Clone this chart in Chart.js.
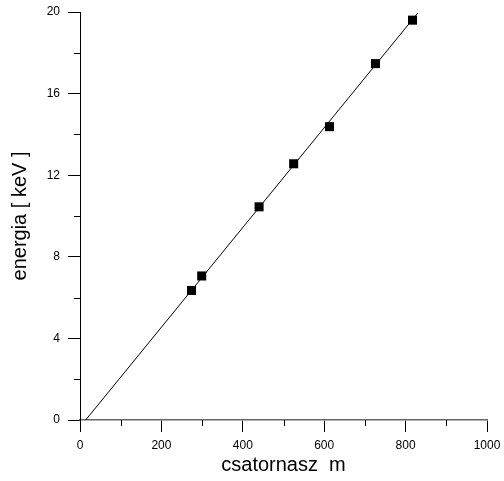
<!DOCTYPE html>
<html>
<head>
<meta charset="utf-8">
<script src="https://cdn.jsdelivr.net/npm/chart.js@4"></script>
<style>
  html, body { margin: 0; padding: 0; background: #fff; }
  #wrap { width: 504px; height: 481px; }
</style>
</head>
<body>
<div id="wrap"><canvas id="calib" width="504" height="481"></canvas></div>
<script>
// mért csúcsok: csatornaszám és energia
const channel = [274, 299, 440, 525, 613, 726, 817];
const energy = [6.35, 7.06, 10.45, 12.56, 14.38, 17.47, 19.6];

// illesztett egyenes végpontjai
const fitX = [14, 830];
const fitY = [0, 19.95];

const xTicks = [0, 200, 400, 600, 800, 1000];
const yTicks = [0, 4, 8, 12, 16, 20];

const pts = channel.map((c, i) => ({ x: c, y: energy[i] }));
const fit = fitX.map((c, i) => ({ x: c, y: fitY[i] }));

// kis osztások a fő osztások között
const minorTicks = {
  id: 'minorTicks',
  afterDraw(chart) {
    const ctx = chart.ctx;
    const xs = chart.scales.x, ys = chart.scales.y;
    ctx.save();
    ctx.strokeStyle = '#000';
    ctx.lineWidth = 1;
    ctx.beginPath();
    for (let i = 0; i < xTicks.length - 1; i++) {
      const px = Math.round(xs.getPixelForValue((xTicks[i] + xTicks[i + 1]) / 2)) + 0.5;
      ctx.moveTo(px, xs.top);
      ctx.lineTo(px, xs.top + 6);
    }
    for (let i = 0; i < yTicks.length - 1; i++) {
      const py = Math.round(ys.getPixelForValue((yTicks[i] + yTicks[i + 1]) / 2)) + 0.5;
      ctx.moveTo(ys.right, py);
      ctx.lineTo(ys.right - 6, py);
    }
    ctx.stroke();
    ctx.restore();
  }
};

const tickFont = { family: 'Arial, "Liberation Sans", sans-serif', size: 12 };
const titleFont = { family: 'Arial, "Liberation Sans", sans-serif', size: 20 };

new Chart(document.getElementById('calib'), {
  type: 'scatter',
  data: {
    datasets: [{
      data: fit,
      showLine: true,
      borderColor: '#000',
      borderWidth: 1,
      pointRadius: 0,
      fill: false
    }, {
      data: pts,
      pointStyle: 'rect',
      pointRadius: 6.4,
      backgroundColor: '#000',
      borderColor: '#000',
      borderWidth: 0
    }]
  },
  options: {
    responsive: false,
    animation: false,
    layout: { padding: { left: 0, right: 17, top: 12, bottom: 0 } },
    plugins: { legend: { display: false }, tooltip: { enabled: false } },
    scales: {
      x: {
        type: 'linear',
        min: 0, max: 1000,
        afterBuildTicks: s => { s.ticks = xTicks.map(v => ({ value: v })); },
        afterFit: s => { s.height = 61; s.paddingLeft = 0; s.paddingRight = 0; },
        grid: { drawOnChartArea: false, tickLength: 12, color: '#000', tickColor: '#000' },
        border: { color: '#666', width: 1.5 },
        ticks: { color: '#000', font: tickFont, padding: 6, maxRotation: 0, callback: v => String(v) },
        title: { display: true, text: 'csatornasz  m', color: '#000', font: titleFont, padding: { top: 4, bottom: 4 } }
      },
      y: {
        type: 'linear',
        min: 0, max: 20,
        afterBuildTicks: s => { s.ticks = yTicks.map(v => ({ value: v })); },
        afterFit: s => { s.width = 80; s.paddingTop = 0; s.paddingBottom = 0; },
        grid: { drawOnChartArea: false, tickLength: 12, color: '#000', tickColor: '#000' },
        border: { color: '#000', width: 1 },
        ticks: { color: '#000', font: tickFont, padding: 8, callback: v => String(v) },
        title: { display: true, text: 'energia [ keV ]', color: '#000', font: titleFont, padding: { top: 8, bottom: 8 } }
      }
    }
  },
  plugins: [minorTicks]
});
</script>
</body>
</html>
